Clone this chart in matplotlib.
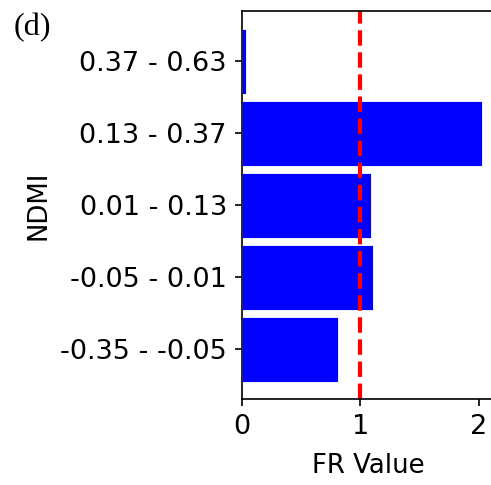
import matplotlib
matplotlib.use("Agg")
import matplotlib.pyplot as plt

# NDMI class ranges (bottom to top) and their frequency ratio values
categories = ["-0.35 - -0.05", "-0.05 - 0.01", "0.01 - 0.13", "0.13 - 0.37", "0.37 - 0.63"]
fr_values = [0.81, 1.11, 1.09, 2.03, 0.035]
reference_fr = 1.0

plt.rcParams["xtick.labelsize"] = 13
plt.rcParams["ytick.labelsize"] = 13
plt.rcParams["axes.labelsize"] = 12.5

fig = plt.figure(figsize=(491 / 150, 485 / 150), dpi=150)
ax = fig.add_axes([0.492, 0.177, 0.515, 0.800])

ax.barh(categories, fr_values, height=0.9, color="blue", edgecolor="white", linewidth=0.4)
ax.axvline(reference_fr, color="red", linestyle="--", linewidth=2)

ax.set_xlabel("FR Value", labelpad=6.5)
ax.set_ylabel("NDMI")
ax.spines["right"].set_visible(False)

fig.text(0.028, 0.974, "(d)", family="Liberation Serif", fontsize=15.5, va="top", ha="left")

fig.savefig("out.png", dpi=150)
